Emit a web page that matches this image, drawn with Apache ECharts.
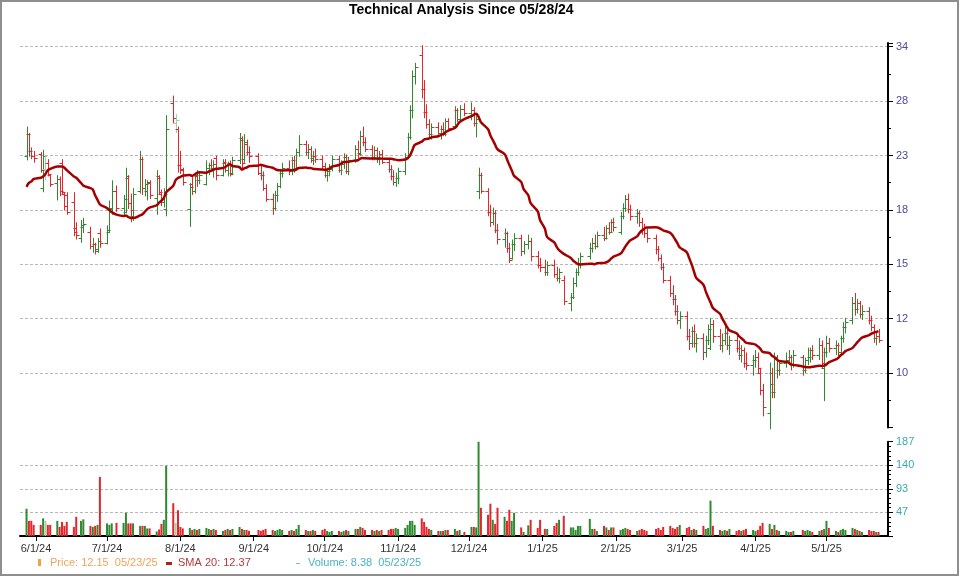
<!DOCTYPE html>
<html><head><meta charset="utf-8">
<script src="https://cdn.jsdelivr.net/npm/echarts@6/dist/echarts.min.js"></script>
<style>html,body{margin:0;padding:0;background:#fff}#c{width:960px;height:576px}</style>
</head><body><div id="c"></div>
<script>
// ---------- data ----------
const firstDay = '2024-05-28', lastDay = '2025-05-23';
const holidays = ['2024-06-19','2024-07-04','2024-09-02','2024-11-28','2024-12-25','2025-01-01','2025-01-09','2025-01-20','2025-02-17','2025-04-18'];
const monthTicks = ['2024-06-01','2024-07-01','2024-08-01','2024-09-01','2024-10-01','2024-11-01','2024-12-01','2025-01-01','2025-02-01','2025-03-01','2025-04-01','2025-05-01'];
const priceTickLabels = [10, 12, 15, 18, 23, 28, 34];

const opens = [
 22.6,24.5,23.0,22.6,
 22.7,20.0,21.5,22.0,21.0,20.4,20.7,22.0,19.6,19.5,19.0,17.2,16.6,17.3,17.0,16.1,16.2,15.9,16.9,
 16.3,17.0,18.5,19.8,18.6,18.3,20.8,18.9,18.0,19.8,22.3,20.0,19.8,20.5,19.3,20.9,19.6,19.0,18.5,27.5,25.5,25.0,
 21.8,21.4,18.5,20.3,19.8,20.9,20.6,20.3,21.6,21.8,21.6,22.4,21.0,22.0,21.4,22.0,21.2,22.2,24.1,22.3,23.6,22.9,
 22.6,21.2,21.0,20.0,19.2,18.6,19.5,20.2,21.2,21.6,21.3,22.2,21.6,22.9,23.6,22.9,23.2,22.4,22.6,22.3,
 21.7,21.0,21.3,21.6,22.3,21.4,21.9,22.5,21.3,22.2,23.2,22.8,24.3,23.8,23.2,22.5,23.1,22.3,22.7,22.1,21.5,20.9,20.5,
 20.8,21.3,22.5,24.2,26.8,30.5,33.0,29.0,26.6,25.4,24.5,25.2,24.6,25.0,24.5,25.7,25.3,26.8,25.9,26.9,
 26.5,26.8,25.5,19.8,21.0,19.8,18.3,17.6,18.2,17.1,16.5,16.9,16.0,15.4,16.2,16.6,15.8,16.2,16.4,15.5,15.0,
 14.9,14.6,15.0,14.5,14.3,14.2,13.0,13.3,14.0,14.6,15.1,15.5,16.0,16.3,16.1,16.8,16.6,17.2,17.0,17.6,
 17.0,18.0,18.6,19.2,18.5,18.0,18.2,17.6,17.1,16.9,16.6,15.9,15.4,14.9,14.2,13.5,13.2,12.6,12.2,
 12.4,11.5,11.2,11.7,11.2,11.4,10.8,11.3,11.0,12.0,11.5,11.1,11.3,11.6,11.1,11.3,11.0,10.7,10.9,10.4,10.3,
 10.5,10.6,10.0,9.4,8.6,10.0,9.3,10.6,10.1,10.4,10.5,10.6,10.3,10.6,10.1,10.5,10.6,10.9,10.7,11.1,10.2,
 10.8,11.2,11.0,11.1,10.8,11.4,11.9,12.2,13.0,12.7,13.0,12.5,12.6,12.2,11.9,11.4,11.5
];
const highs = [
 25.2,24.6,23.3,23.0,
 22.9,23.1,22.6,22.3,21.0,21.0,20.9,22.3,19.7,19.7,19.7,17.6,17.75,17.9,17.3,16.6,16.3,16.6,17.2,
 17.4,19.1,20.6,20.2,19.5,21.6,21.0,19.6,20.0,23.0,22.5,20.7,20.6,20.6,21.4,21.0,19.9,20.0,26.3,28.3,26.4,25.2,
 23.0,21.6,20.4,20.9,21.2,21.4,21.3,22.2,22.0,22.3,22.2,22.6,22.3,22.3,22.1,22.2,22.5,24.6,24.3,24.5,24.0,23.4,
 22.8,21.8,21.3,20.3,19.6,19.8,20.4,21.5,22.0,22.2,22.5,22.6,23.2,24.4,23.9,23.6,23.4,23.0,23.2,22.6,
 22.0,21.6,21.9,22.6,22.6,22.2,22.8,22.7,22.5,23.5,23.9,24.8,25.2,24.2,23.5,23.4,23.3,23.0,23.1,22.4,21.8,21.4,21.2,
 21.6,22.8,24.6,27.3,31.1,32.0,34.2,30.0,27.4,25.9,25.5,25.6,25.3,25.6,26.0,26.0,27.2,27.0,27.3,27.5,
 27.6,27.1,26.3,21.6,21.2,20.0,18.8,18.6,18.4,17.5,17.2,17.0,16.3,16.5,16.9,16.8,16.4,16.8,16.6,15.8,15.4,
 15.3,15.2,15.3,14.9,14.8,14.4,13.5,14.3,14.8,15.4,15.7,16.3,16.6,16.8,17.0,17.3,17.4,17.6,17.8,17.9,
 18.3,18.9,19.5,19.6,18.8,18.5,18.4,17.9,17.5,17.2,16.8,16.1,15.6,15.1,14.4,13.9,13.4,12.9,12.6,
 12.6,11.8,11.9,12.0,11.6,11.6,11.5,12.0,12.3,12.2,11.8,11.6,11.9,11.8,11.5,11.6,11.3,11.1,11.0,10.8,10.7,
 10.9,10.8,10.2,9.6,10.4,10.2,10.8,10.7,10.5,10.8,10.9,10.7,10.9,10.7,10.6,11.0,11.0,11.1,11.4,11.3,11.0,
 11.5,11.4,11.3,11.2,11.5,12.1,12.3,13.3,13.5,13.2,13.1,12.9,12.8,12.4,12.0,11.7,11.8
];
const lows = [
 22.2,22.5,22.3,22.0,
 21.2,19.7,20.6,20.9,20.1,19.1,19.4,19.5,18.4,18.1,16.7,16.5,16.3,16.9,15.9,15.7,15.6,15.7,16.0,
 16.2,16.9,18.1,18.3,18.0,18.2,18.5,17.6,17.7,19.6,19.5,19.4,19.1,19.2,18.1,19.5,18.7,18.6,18.0,25.5,24.6,21.2,
 21.1,20.2,17.3,19.5,19.6,20.1,20.3,20.2,21.0,21.3,20.8,20.6,20.9,21.2,20.9,20.9,21.0,21.9,21.5,22.0,22.6,22.0,
 21.0,20.6,19.8,19.0,18.1,18.4,19.0,20.0,20.8,21.0,21.0,21.2,21.4,22.5,22.6,22.3,22.0,21.8,22.0,21.4,
 20.8,20.5,20.9,21.3,21.2,21.0,21.5,21.1,21.0,22.0,22.4,22.6,23.4,22.9,22.2,22.2,22.0,21.8,21.9,21.2,20.6,20.2,20.1,
 20.3,21.0,22.3,24.0,26.0,29.5,28.0,26.0,25.0,24.1,24.0,24.2,24.0,24.3,24.3,24.8,25.0,25.6,25.7,26.2,
 25.8,25.2,24.2,19.2,19.6,18.0,17.3,17.4,16.9,16.2,16.0,15.7,15.1,15.3,15.8,15.5,15.6,15.9,15.2,14.8,14.6,
 14.4,14.4,14.3,14.1,14.0,12.9,12.6,13.2,13.8,14.4,14.8,15.3,15.7,15.9,16.0,16.4,16.5,16.8,16.9,17.0,
 16.8,17.8,18.3,18.2,17.7,17.5,17.3,16.8,16.6,16.3,15.6,15.2,14.7,14.0,13.3,12.9,12.4,12.0,11.8,
 11.3,10.9,11.0,11.0,10.8,10.5,10.6,11.1,10.9,11.2,10.9,10.8,11.1,10.9,10.7,10.8,10.5,10.4,10.2,10.1,9.9,
 10.2,10.0,9.2,8.5,8.1,9.1,9.1,9.8,9.9,10.2,10.3,10.1,10.2,9.9,10.0,10.3,10.4,10.5,10.5,10.2,9.0,
 10.6,10.8,10.7,10.6,10.7,11.2,11.6,12.0,12.4,12.5,12.3,12.2,12.0,11.7,11.2,11.1,11.2
];
const closes = [
 24.5,23.0,22.6,22.4,
 21.4,22.6,22.0,21.1,20.3,20.7,19.8,19.7,18.7,18.3,17.0,16.8,17.4,17.5,16.1,16.2,15.8,16.4,16.3,
 17.1,18.6,19.8,18.6,19.2,20.9,18.9,18.4,19.6,22.3,20.0,20.3,20.4,19.5,20.8,19.7,19.0,19.6,25.0,26.0,25.8,21.8,
 21.5,20.5,20.1,19.8,21.0,20.6,21.0,21.6,21.8,21.6,21.9,21.0,22.1,21.4,21.9,21.1,22.2,24.0,22.0,23.8,22.9,22.6,
 21.2,21.0,20.0,19.2,18.6,19.5,20.2,21.2,21.6,21.3,22.2,21.5,22.9,23.6,22.9,23.2,22.2,22.6,22.3,21.7,
 21.0,21.3,21.5,22.3,21.4,21.9,22.5,21.3,22.2,23.2,22.7,24.3,23.8,23.2,22.5,23.1,22.3,22.7,22.1,21.5,20.9,20.5,20.8,
 21.3,22.5,24.2,26.8,30.5,31.5,29.0,26.6,25.4,24.5,25.2,24.6,25.0,24.5,25.7,25.1,26.8,25.9,26.9,26.5,
 26.8,25.5,25.9,21.0,19.8,18.3,17.6,18.2,17.1,16.5,16.9,16.0,15.3,16.2,16.6,15.8,16.2,16.4,15.5,15.0,14.9,
 14.6,15.0,14.5,14.3,14.6,13.1,13.3,14.0,14.6,15.1,15.5,16.0,16.3,16.1,16.8,16.6,17.2,17.0,17.6,17.3,
 18.0,18.6,19.2,18.5,18.0,18.2,17.6,17.1,16.9,16.6,15.9,15.4,14.9,14.2,13.5,13.2,12.6,12.2,12.4,
 11.5,11.2,11.7,11.2,11.4,10.8,11.3,11.8,12.0,11.5,11.1,11.3,11.6,11.1,11.3,11.0,10.7,10.9,10.4,10.3,10.5,
 10.6,10.2,9.4,8.8,9.6,9.3,10.6,10.1,10.4,10.5,10.6,10.3,10.7,10.1,10.5,10.6,10.9,10.7,11.1,10.4,10.8,
 11.2,11.0,11.1,10.8,11.4,11.9,12.1,13.0,12.7,13.0,12.5,12.6,12.2,11.9,11.4,11.5,11.3
];
const volumes = [
 54,30,30,22,
 22,35,30,22,22,30,18,28,20,28,18,38,30,33,20,18,20,22,117,
 25,22,25,26,26,46,25,25,25,20,20,20,15,15,9,13,24,32,139,65,26,51,
 18,15,16,12,14,12,14,16,14,12,14,12,10,12,14,12,14,18,14,12,12,10,
 12,10,12,14,12,10,12,14,12,10,12,10,14,22,12,10,10,12,10,12,
 14,10,8,10,10,8,10,12,10,14,14,18,16,12,12,10,12,10,12,12,14,14,16,
 14,16,22,30,30,22,35,28,18,14,12,10,10,10,12,12,14,10,12,8,
 18,18,17,186.8,56,42,64,32,24,56,38,30,52,30,46,17,8,21,32,16,32,
 14,14,20,26,32,40,17,17,12,20,20,34,14,14,10,20,17,12,17,17,
 12,14,16,14,12,10,12,14,12,10,14,16,12,18,20,16,14,18,22,
 16,18,12,14,12,20,14,16,70,20,12,10,12,10,14,10,12,10,12,14,12,
 10,12,20,26,24,14,22,12,10,10,8,8,10,12,10,12,10,8,10,12,14,
 30,16,10,8,12,14,12,16,14,12,10,8,12,10,10,8,8
];
// SMA 20 as drawn for the first days (needs prices before the window)
const smaStart = [20.1,20.4,20.5,20.7,20.8,20.9,21.1,21.4,21.5,21.7,21.7,21.7,21.6,21.4,20.9,20.8,20.4,20.2,20.0];

// ---------- helpers ----------
const R = Math.pow(3.4, 1 / 6);                 // price axis step ratio
const toU = p => Math.log(p / 10) / Math.log(R); // log-like transform
const utc = s => Date.parse(s + 'T00:00:00Z');

const dates = [];
for (let t = utc(firstDay); t <= utc(lastDay); t += 864e5) {
  const d = new Date(t), wd = d.getUTCDay(), s = d.toISOString().slice(0, 10);
  if (wd === 0 || wd === 6 || holidays.includes(s)) continue;
  dates.push(t);
}
const n = Math.min(dates.length, closes.length);

const sma = closes.map((c, i) => i < smaStart.length ? smaStart[i]
  : closes.slice(i - 19, i + 1).reduce((a, b) => a + b, 0) / 20);

function barColor(i) {
  const up = closes[i] >= opens[i];
  const prev = i > 0 ? closes[i - 1] : opens[i];
  const big = Math.abs(closes[i] - opens[i]) / opens[i] > 0.05;
  const strong = big || (up ? closes[i] >= prev : closes[i] <= prev);
  return up ? (strong ? '#2f8a2f' : '#a3d1a3') : (strong ? '#e3262b' : '#f5a5a5');
}
const fmtDate = v => { const d = new Date(v); return (d.getUTCMonth() + 1) + '/' + d.getUTCDate() + '/' + String(d.getUTCFullYear() % 100).padStart(2, '0'); };

const tickTs = monthTicks.map(utc);
const xMin = Date.UTC(2024, 4, 25, 5, 45), xMax = Date.UTC(2025, 4, 27, 0);

const ohlc = [], vol = [], smaData = [];
for (let i = 0; i < n; i++) {
  ohlc.push([dates[i], toU(opens[i]), toU(highs[i]), toU(lows[i]), toU(closes[i]), i]);
  vol.push({ value: [dates[i], volumes[i]], itemStyle: { color: barColor(i) } });
  smaData.push([dates[i], toU(sma[i])]);
}

const FONT = 'Liberation Sans';
const chart = echarts.init(document.getElementById('c'), null, { renderer: 'canvas' });
chart.setOption({
  animation: false,
  backgroundColor: '#fff',
  title: { text: 'Technical Analysis Since 05/28/24', left: 349, top: 3, padding: 0,
    textStyle: { fontFamily: FONT, fontSize: 14, fontWeight: 'bold', color: '#000' } },
  grid: [
    { left: 20, right: 72, top: 42.9, height: 384.5 },
    { left: 20, right: 72, top: 441.7, height: 94.3 }
  ],
  xAxis: [
    { type: 'value', gridIndex: 0, min: xMin, max: xMax, show: false, splitLine: { show: false } },
    { type: 'value', gridIndex: 1, min: xMin, max: xMax,
      axisLine: { show: true, onZero: false, lineStyle: { color: '#000', width: 2 } },
      axisTick: { show: true, customValues: tickTs, length: 5, lineStyle: { color: '#000' } },
      axisLabel: { customValues: tickTs, formatter: fmtDate, color: '#333', fontFamily: FONT, fontSize: 11, margin: 7 },
      splitLine: { show: false } }
  ],
  yAxis: [
    { type: 'value', gridIndex: 0, position: 'right', min: -1, max: 6.07, interval: 1,
      axisLine: { show: true, lineStyle: { color: '#000', width: 2 } },
      axisTick: { show: true, length: 5, lineStyle: { color: '#000' } },
      minorTick: { show: true, splitNumber: 2, length: 3, lineStyle: { color: '#000' } },
      axisLabel: { color: '#4a4a9c', fontFamily: FONT, fontSize: 11, margin: 8,
        formatter: v => { const k = Math.round(v); return Math.abs(v - k) < 1e-6 && k >= 0 && k < priceTickLabels.length ? String(priceTickLabels[k]) : ''; } },
      splitLine: { show: true, showMinLine: false, showMaxLine: false, lineStyle: { color: '#b8b8b8', type: [3, 2], width: 1 } } },
    { type: 'value', gridIndex: 1, position: 'right', min: 0, max: 186.8, interval: 46.7,
      axisLine: { show: true, lineStyle: { color: '#000', width: 2 } },
      axisTick: { show: true, length: 5, lineStyle: { color: '#000' } },
      minorTick: { show: true, splitNumber: 5, length: 3, lineStyle: { color: '#000' } },
      axisLabel: { color: '#3aa9b9', fontFamily: FONT, fontSize: 11, margin: 8,
        formatter: v => v > 0 ? String(Math.round(v)) : '' },
      splitLine: { show: true, showMinLine: false, showMaxLine: false, lineStyle: { color: '#b8b8b8', type: [3, 2], width: 1 } } }
  ],
  series: [
    { type: 'custom', name: 'Price', xAxisIndex: 0, yAxisIndex: 0, data: ohlc, clip: false,
      encode: { x: 0, y: [1, 2, 3, 4] },
      renderItem(params, api) {
        const x = api.value(0);
        const pO = api.coord([x, api.value(1)]), pH = api.coord([x, api.value(2)]);
        const pL = api.coord([x, api.value(3)]), pC = api.coord([x, api.value(4)]);
        const col = barColor(api.value(5));
        const cx = Math.round(pH[0]) + 0.5;
        return { type: 'group', children: [
          { type: 'line', shape: { x1: cx, y1: pH[1], x2: cx, y2: pL[1] }, style: { stroke: col, lineWidth: 1 } },
          { type: 'line', shape: { x1: cx - 3, y1: Math.round(pO[1]) + 0.5, x2: cx, y2: Math.round(pO[1]) + 0.5 }, style: { stroke: col, lineWidth: 1 } },
          { type: 'line', shape: { x1: cx, y1: Math.round(pC[1]) + 0.5, x2: cx + 3, y2: Math.round(pC[1]) + 0.5 }, style: { stroke: col, lineWidth: 1 } }
        ] };
      } },
    { type: 'line', name: 'SMA 20', xAxisIndex: 0, yAxisIndex: 0, data: smaData, showSymbol: false, symbol: 'none',
      smooth: 0.3, z: 5, lineStyle: { color: '#a50000', width: 2.5 } },
    { type: 'bar', name: 'Volume', xAxisIndex: 1, yAxisIndex: 1, data: vol, barWidth: 2, barMinHeight: 0 }
  ],
  graphic: [
    { type: 'rect', shape: { x: 1, y: 1, width: 957, height: 574 }, style: { fill: 'none', stroke: '#8f8f8f', lineWidth: 2 }, silent: true },
    { type: 'rect', shape: { x: 38, y: 559, width: 3, height: 7 }, style: { fill: '#f3a23c' } },
    { type: 'text', x: 50, y: 563, style: { text: 'Price: 12.15  05/23/25', fill: '#f0a45c', font: '11px "Liberation Sans"', textVerticalAlign: 'middle' } },
    { type: 'rect', shape: { x: 166, y: 562, width: 6, height: 3 }, style: { fill: '#b01e1e' } },
    { type: 'text', x: 178, y: 563, style: { text: 'SMA 20: 12.37', fill: '#b23a3a', font: '11px "Liberation Sans"', textVerticalAlign: 'middle' } },
    { type: 'rect', shape: { x: 296, y: 563, width: 4, height: 1 }, style: { fill: '#6cc3cc' } },
    { type: 'text', x: 308, y: 563, style: { text: 'Volume: 8.38  05/23/25', fill: '#4db2be', font: '11px "Liberation Sans"', textVerticalAlign: 'middle' } }
  ]
});
</script>
</body></html>
